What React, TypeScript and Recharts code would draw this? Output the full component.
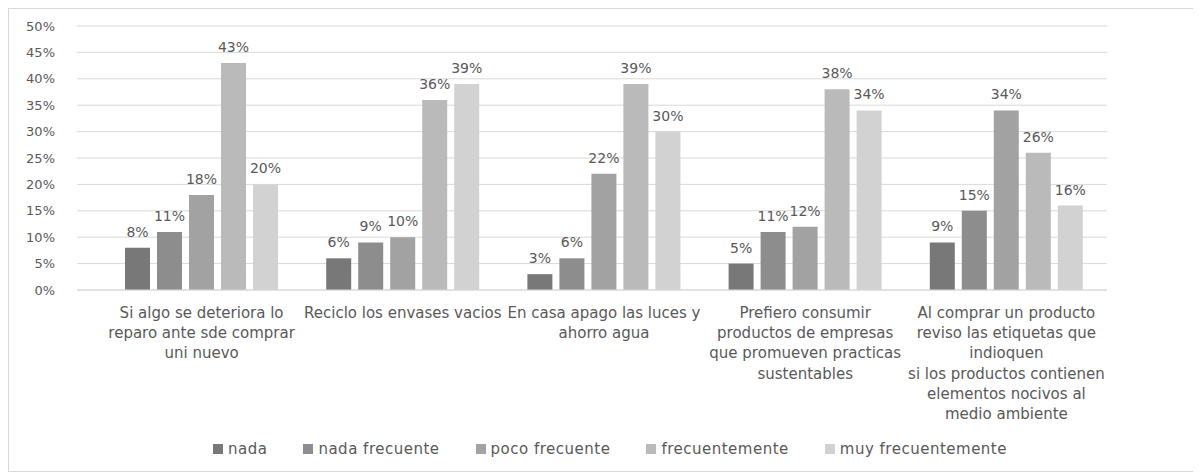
import React from 'react'
import { BarChart, Bar, XAxis, YAxis, CartesianGrid, Legend, LabelList } from 'recharts'

const categories = [
  'Si algo se deteriora lo\nreparo ante sde comprar\nuni nuevo',
  'Reciclo los envases vacios',
  'En casa apago las luces y\nahorro agua',
  'Prefiero consumir\nproductos de empresas\nque promueven practicas\nsustentables',
  'Al comprar un producto\nreviso las etiquetas que\nindioquen\nsi los productos contienen\nelementos nocivos al\nmedio ambiente',
]

const nada = [8, 6, 3, 5, 9]
const nadaFrecuente = [11, 9, 6, 11, 15]
const pocoFrecuente = [18, 10, 22, 12, 34]
const frecuentemente = [43, 36, 39, 38, 26]
const muyFrecuentemente = [20, 39, 30, 34, 16]

const yTicks = [0, 5, 10, 15, 20, 25, 30, 35, 40, 45, 50]

const series = [
  { key: 'nada', name: 'nada', color: '#787878' },
  { key: 'nadaFrecuente', name: 'nada frecuente', color: '#8d8d8d' },
  { key: 'pocoFrecuente', name: 'poco frecuente', color: '#a2a2a2' },
  { key: 'frecuentemente', name: 'frecuentemente', color: '#bababa' },
  { key: 'muyFrecuentemente', name: 'muy frecuentemente', color: '#d2d2d2' },
]

const data = categories.map((c, i) => ({
  cat: c,
  nada: nada[i],
  nadaFrecuente: nadaFrecuente[i],
  pocoFrecuente: pocoFrecuente[i],
  frecuentemente: frecuentemente[i],
  muyFrecuentemente: muyFrecuentemente[i],
}))

const font = '"DejaVu Sans", sans-serif'
const textColor = '#595959'

const CatTick = (props: any) => {
  const { x, y, payload } = props
  const lines = String(payload.value).split('\n')
  return (
    <text x={x} y={y} textAnchor="middle" fill={textColor} fontSize={15} fontFamily={font}>
      {lines.map((l, i) => (
        <tspan key={i} x={x} dy={i === 0 ? 28 : 20.2}>{l}</tspan>
      ))}
    </text>
  )
}

const LegendContent = () => (
  <div style={{ display: 'flex', justifyContent: 'center', gap: 36, marginLeft: 16, fontFamily: font, fontSize: 15, letterSpacing: 0.5, color: textColor, lineHeight: '20px' }}>
    {series.map(s => (
      <div key={s.key} style={{ display: 'flex', alignItems: 'center' }}>
        <span style={{ width: 10, height: 10, background: s.color, marginRight: 5, display: 'inline-block' }} />
        {s.name}
      </div>
    ))}
  </div>
)

export default function App() {
  return (
    <div style={{ width: 1186, height: 462, border: '1px solid #d9d9d9', background: '#fff' }}>
      <BarChart
        width={1186}
        height={462}
        data={data}
        margin={{ top: 17, right: 88, left: 20, bottom: 0 }}
        barGap={7}
        barSize={25}
      >
        <CartesianGrid vertical={false} stroke="#d9d9d9" />
        <XAxis
          dataKey="cat"
          interval={0}
          height={161}
          padding={{ left: 24, right: 0 }}
          tick={<CatTick />}
          tickLine={false}
          axisLine={{ stroke: '#d9d9d9' }}
          tickSize={0}
          tickMargin={0}
        />
        <YAxis
          domain={[0, 50]}
          ticks={yTicks}
          width={48}
          tickFormatter={(v: number) => `${v}%`}
          tick={{ fill: textColor, fontSize: 13, fontFamily: font }}
          axisLine={false}
          tickLine={false}
          tickSize={0}
          tickMargin={22}
        />
        <Legend
          verticalAlign="bottom"
          content={<LegendContent />}
          wrapperStyle={{ bottom: 12, left: 0, width: 1186 }}
        />
        {series.map(s => (
          <Bar key={s.key} dataKey={s.key} name={s.name} fill={s.color} isAnimationActive={false}>
            <LabelList
              dataKey={s.key}
              position="top"
              offset={11}
              formatter={(v: any) => `${v}%`}
              fill={textColor}
              fontSize={14}
              fontFamily={font}
            />
          </Bar>
        ))}
      </BarChart>
    </div>
  )
}
